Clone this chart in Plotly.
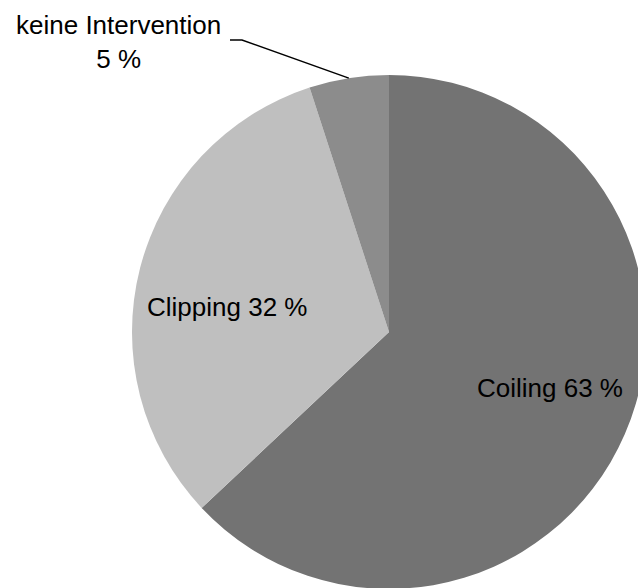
import plotly.graph_objects as go
import math

# Distribution of treatment types
categories = ["Coiling", "Clipping", "keine Intervention"]
shares = [63, 32, 5]
colors = ["#737373", "#bfbfbf", "#8c8c8c"]

FONT = "Liberation Sans, Arial, sans-serif"
FONT_SIZE = 26
W, H = 660, 589
L, T = 132, 75
SIDE = 514  # pie domain is a square of this many pixels
R_M = W - L - SIDE
B_M = H - T - SIDE


def px_to_paper(x, y):
    return (x - L) / SIDE, (T + SIDE - y) / SIDE


fig = go.Figure(
    go.Pie(
        labels=categories,
        values=shares,
        sort=False,
        direction="clockwise",
        rotation=0,
        marker=dict(colors=colors, line=dict(width=0)),
        textinfo="none",
        hoverinfo="label+percent",
        showlegend=False,
    )
)

# slice mid-angles (measured clockwise from 12 o'clock)
total = sum(shares)
mids = []
acc = 0.0
for v in shares:
    mids.append((acc + v / 2) / total * 2 * math.pi)
    acc += v


def polar_point(angle, frac):
    r = 0.5 * frac
    return 0.5 + r * math.sin(angle), 0.5 + r * math.cos(angle)


# label anchor points (pixel centres of the text blocks)
label_px = [(550, 388), (227, 307), (118, 42)]

annotations = []
for i, (name, v) in enumerate(zip(categories, shares)):
    x, y = px_to_paper(*label_px[i])
    text = f"{name} {v} %" if i < 2 else f"{name}<br>{v} %"
    annotations.append(dict(
        x=x, y=y, xref="paper", yref="paper",
        text=text, showarrow=False,
        xanchor="center", yanchor="middle", align="center",
        font=dict(family=FONT, size=FONT_SIZE, color="black"),
    ))

# leader line from the small slice to its label
sx, sy = px_to_paper(230, 40)
ex, ey = px_to_paper(242, 40)
tx, ty = polar_point(mids[2], 1.0)
shapes = [dict(
    type="path", xref="paper", yref="paper",
    path=f"M {sx},{sy} L {ex},{ey} L {tx},{ty}",
    line=dict(color="black", width=1.5),
)]

fig.update_traces(domain=dict(x=[0, 1], y=[0, 1]))
fig.update_layout(
    width=W, height=H,
    margin=dict(l=L, r=R_M, t=T, b=B_M, pad=0),
    paper_bgcolor="white", plot_bgcolor="white",
    annotations=annotations, shapes=shapes,
    font=dict(family=FONT),
)

fig.write_html(
    "out.html",
    post_script="document.body.style.margin='0';document.body.style.overflow='hidden';",
)
